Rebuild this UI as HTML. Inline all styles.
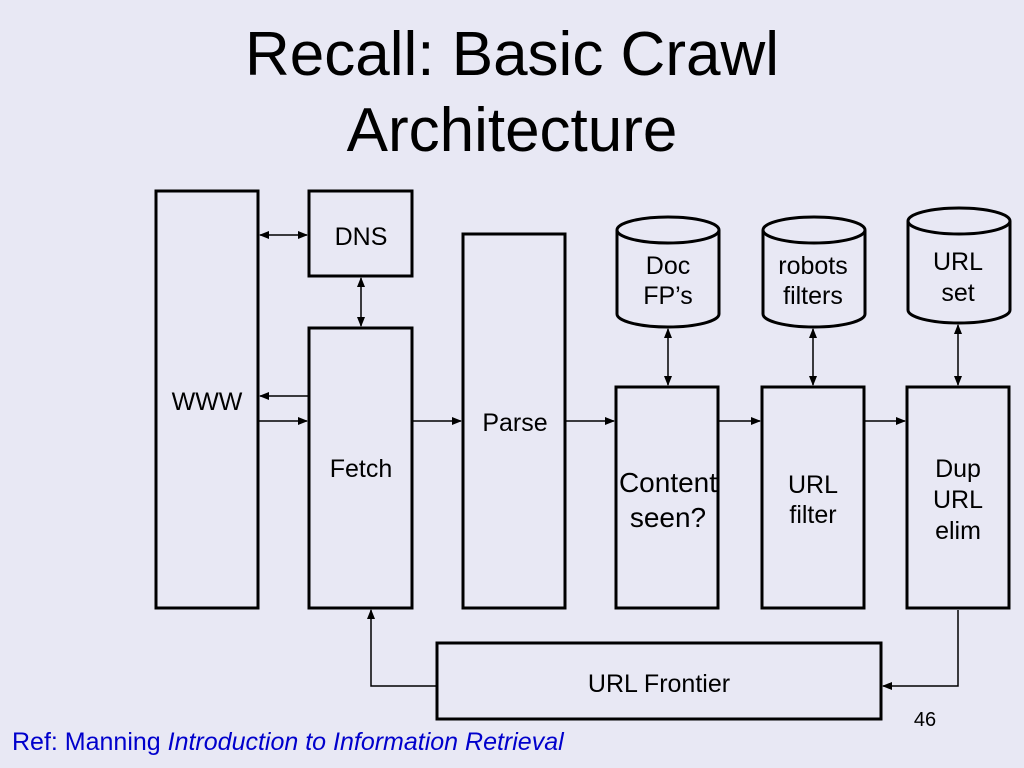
<!DOCTYPE html>
<html><head><style>
html,body{margin:0;padding:0;background:#e8e8f4;}
svg{display:block;}
text{font-family:"Liberation Sans",Arial,sans-serif;}
</style></head><body>
<svg width="1024" height="768" viewBox="0 0 1024 768">
<defs>
<marker id="a" markerWidth="10" markerHeight="8" refX="9" refY="4" orient="auto-start-reverse" markerUnits="userSpaceOnUse"><path d="M0,0 L10,4 L0,8 z" fill="#000"/></marker>
</defs>
<rect width="1024" height="768" fill="#e8e8f4"/>
<text x="512" y="75" font-size="62" text-anchor="middle">Recall: Basic Crawl</text>
<text x="512" y="151" font-size="62" text-anchor="middle">Architecture</text>
<g fill="none" stroke="#000" stroke-width="3">
<rect x="156" y="191" width="102" height="417"/>
<rect x="309" y="191" width="103" height="85"/>
<rect x="309" y="328" width="103" height="280"/>
<rect x="463" y="234" width="102" height="374"/>
<rect x="616" y="387" width="102" height="221"/>
<rect x="762" y="387" width="102" height="221"/>
<rect x="907" y="387" width="102" height="221"/>
<rect x="437" y="643" width="444" height="76"/>
<path d="M617,230 V314 A51,13 0 0 0 719,314 V230 A51,13 0 0 0 617,230 A51,13 0 0 0 719,230"/>
<path d="M763,230 V314 A51,13 0 0 0 865,314 V230 A51,13 0 0 0 763,230 A51,13 0 0 0 865,230"/>
<path d="M908,221 V310 A51,13 0 0 0 1010,310 V221 A51,13 0 0 0 908,221 A51,13 0 0 0 1010,221"/>
</g>
<g stroke="#000" stroke-width="1.5" fill="none">
<line x1="260" y1="235" x2="307" y2="235" marker-start="url(#a)" marker-end="url(#a)"/>
<line x1="361" y1="278" x2="361" y2="326" marker-start="url(#a)" marker-end="url(#a)"/>
<line x1="308" y1="396" x2="260" y2="396" marker-end="url(#a)"/>
<line x1="259" y1="421" x2="307" y2="421" marker-end="url(#a)"/>
<line x1="413" y1="421" x2="461" y2="421" marker-end="url(#a)"/>
<line x1="566" y1="421" x2="614" y2="421" marker-end="url(#a)"/>
<line x1="719" y1="421" x2="760" y2="421" marker-end="url(#a)"/>
<line x1="865" y1="421" x2="905" y2="421" marker-end="url(#a)"/>
<line x1="668" y1="329" x2="668" y2="385" marker-start="url(#a)" marker-end="url(#a)"/>
<line x1="813" y1="329" x2="813" y2="385" marker-start="url(#a)" marker-end="url(#a)"/>
<line x1="958" y1="325" x2="958" y2="385" marker-start="url(#a)" marker-end="url(#a)"/>
<polyline points="958,610 958,686 883,686" marker-end="url(#a)"/>
<polyline points="436,686 371,686 371,610" marker-end="url(#a)"/>
</g>
<g font-size="25" text-anchor="middle">
<text x="207" y="410">WWW</text>
<text x="361" y="245">DNS</text>
<text x="361" y="477">Fetch</text>
<text x="515" y="431">Parse</text>
<text x="668" y="492" font-size="28">Content</text>
<text x="668" y="527" font-size="28">seen?</text>
<text x="813" y="493">URL</text>
<text x="813" y="523">filter</text>
<text x="958" y="477">Dup</text>
<text x="958" y="508">URL</text>
<text x="958" y="539">elim</text>
<text x="668" y="274">Doc</text>
<text x="668" y="304">FP’s</text>
<text x="813" y="274">robots</text>
<text x="813" y="304">filters</text>
<text x="958" y="270">URL</text>
<text x="958" y="301">set</text>
<text x="659" y="692">URL Frontier</text>
</g>
<text x="925" y="726" font-size="20" text-anchor="middle">46</text>
<text x="12" y="750" font-size="25" fill="#0000cc">Ref: Manning <tspan font-style="italic">Introduction to Information Retrieval</tspan></text>
</svg>
</body></html>
